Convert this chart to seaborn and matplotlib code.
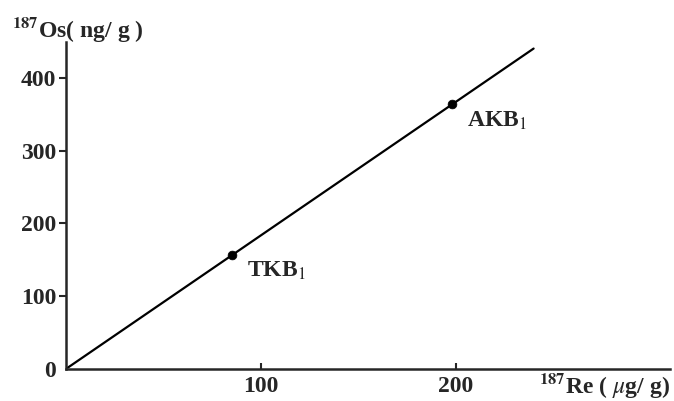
import matplotlib
matplotlib.use("Agg")
import matplotlib.pyplot as plt
import seaborn as sns

# values
samples = ["TKB$_1$", "AKB$_1$"]
re187 = [85, 198]      # ug/g
os187 = [157, 364]     # ng/g
fit_re = [1, 240]
fit_os = [2, 440]

x_ticks = [100, 200]
y_ticks = [0, 100, 200, 300, 400]

sns.set_style("ticks")
plt.rcParams["font.family"] = ["Liberation Serif", "DejaVu Serif"]
plt.rcParams["mathtext.fontset"] = "stix"

fig = plt.figure(figsize=(6.74, 4.01), dpi=100)
ax = fig.add_axes([66 / 674, 32 / 401, 604 / 674, 327 / 401])

sns.lineplot(x=fit_re, y=fit_os, ax=ax, color="black", linewidth=1.6)
sns.scatterplot(x=re187, y=os187, ax=ax, color="black", s=40, edgecolor="black", zorder=3)

for name, xv, yv in zip(samples, re187, os187):
    ax.annotate(name, (xv, yv), xytext=(11, -12), textcoords="offset points",
                fontsize=17, fontweight="bold", ha="left", va="center")

ax.set_xlim(0, 310)
ax.set_ylim(0, 449)
ax.set_xticks(x_ticks)
ax.set_yticks(y_ticks)
ax.tick_params(axis="x", direction="in", length=4, width=1.5, labelsize=17, pad=5)
ax.tick_params(axis="y", direction="out", length=5, width=1.5, labelsize=17, pad=2)
ax.yaxis.get_major_ticks()[0].tick1line.set_visible(False)
for lab in ax.get_xticklabels() + ax.get_yticklabels():
    lab.set_fontweight("bold")
sns.despine(ax=ax)
for sp in ["left", "bottom"]:
    ax.spines[sp].set_linewidth(1.8)

fig.text(12 / 674, 1 - 30 / 401, "$^{\\mathbf{187}}$Os( ng/ g )", fontsize=17, fontweight="bold",
         ha="left", va="center")
fig.text(670 / 674, 1 - 386 / 401, "$^{\\mathbf{187}}$Re ( $\\mu$g/ g)", fontsize=17, fontweight="bold",
         ha="right", va="center")

fig.savefig("out.png", dpi=100)
